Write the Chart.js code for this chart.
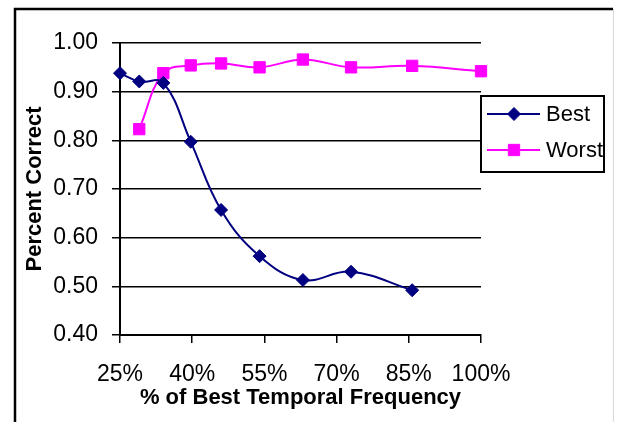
<!DOCTYPE html>
<html>
<head>
<meta charset="utf-8">
<script src="https://cdn.jsdelivr.net/npm/chart.js@4/dist/chart.umd.min.js"></script>
<style>
  html, body { margin: 0; padding: 0; background: #fff; }
  #wrap { position: relative; width: 618px; height: 422px; }
</style>
</head>
<body>
<div id="wrap"><canvas id="chartCanvas" width="618" height="422"></canvas></div>
<script>
// frequencies (% of best temporal frequency)
const frequencies = [25, 29, 34, 39.7, 46, 54, 63, 73, 85.7, 100];
const bestValues  = [0.938, 0.921, 0.918, 0.797, 0.657, 0.562, 0.513, 0.530, 0.492, null];
const worstValues = [null, 0.823, 0.938, 0.954, 0.958, 0.950, 0.966, 0.950, 0.953, 0.942];
const xTicks = [25, 40, 55, 70, 85, 100];
const yTicks = [0.40, 0.50, 0.60, 0.70, 0.80, 0.90, 1.00];

const FONT = "'Liberation Sans', Arial, sans-serif";

function toPoints(values) {
    return frequencies.map((f, i) => ({ x: f, y: values[i] }));
}

// marco exterior del gráfico
const framePlugin = {
    id: 'frame',
    beforeDraw(chart) {
        const ctx = chart.ctx;
        ctx.save();
        ctx.fillStyle = '#fff';
        ctx.fillRect(0, 0, chart.width, chart.height);
        ctx.strokeStyle = '#000';
        ctx.lineWidth = 2.5;
        ctx.beginPath();
        ctx.moveTo(15, 430);
        ctx.lineTo(15, 9);
        ctx.lineTo(613, 9);
        ctx.stroke();
        ctx.strokeStyle = '#d8d8d8';
        ctx.lineWidth = 1;
        ctx.beginPath();
        ctx.moveTo(613.5, 9);
        ctx.lineTo(613.5, 430);
        ctx.stroke();
        ctx.restore();
    }
};

// leyenda con recuadro a la derecha
const boxLegendPlugin = {
    id: 'boxLegend',
    afterDraw(chart) {
        const ctx = chart.ctx;
        const left = 481, top = 96, right = 604, bottom = 172;
        ctx.save();
        ctx.fillStyle = '#fff';
        ctx.fillRect(left, top, right - left, bottom - top);
        ctx.strokeStyle = '#000';
        ctx.lineWidth = 2;
        ctx.strokeRect(left, top, right - left, bottom - top);
        const rows = [114, 150];
        chart.data.datasets.forEach((ds, i) => {
            const y = rows[i];
            ctx.strokeStyle = ds.borderColor;
            ctx.lineWidth = 2;
            ctx.beginPath();
            ctx.moveTo(487, y);
            ctx.lineTo(540, y);
            ctx.stroke();
            ctx.fillStyle = ds.pointBackgroundColor;
            ctx.strokeStyle = ds.pointBorderColor;
            ctx.lineWidth = 1;
            Chart.helpers.drawPoint(ctx, {
                pointStyle: ds.pointStyle,
                radius: ds.pointRadius,
                borderWidth: 1
            }, 514, y);
            ctx.fillStyle = '#000';
            ctx.font = '22px ' + FONT;
            ctx.textBaseline = 'middle';
            ctx.textAlign = 'left';
            ctx.fillText(ds.label, 546, y + 1);
        });
        ctx.restore();
    }
};

const ctx = document.getElementById('chartCanvas').getContext('2d');

const myChart = new Chart(ctx, {
    type: 'line',
    data: {
        datasets: [
            {
                label: 'Best',
                data: toPoints(bestValues),
                borderColor: '#000080',
                backgroundColor: '#000080',
                pointBackgroundColor: '#000080',
                pointBorderColor: '#000080',
                pointStyle: 'rectRot',
                pointRadius: 6.5,
                pointBorderWidth: 1,
                borderWidth: 2,
                tension: 0.4,
                fill: false,
                clip: false
            },
            {
                label: 'Worst',
                data: toPoints(worstValues),
                borderColor: '#ff00ff',
                backgroundColor: '#ff00ff',
                pointBackgroundColor: '#ff00ff',
                pointBorderColor: '#ff00ff',
                pointStyle: 'rect',
                pointRadius: 8,
                pointBorderWidth: 1,
                borderWidth: 2,
                tension: 0.4,
                fill: false,
                clip: false
            }
        ]
    },
    options: {
        responsive: false,
        animation: false,
        devicePixelRatio: 1,
        layout: {
            padding: { left: 0, top: 43, right: 137, bottom: 0 }
        },
        plugins: {
            legend: { display: false },
            tooltip: { enabled: false }
        },
        scales: {
            x: {
                type: 'linear',
                min: 25,
                max: 100,
                afterBuildTicks(scale) {
                    scale.ticks = xTicks.map(v => ({ value: v }));
                },
                afterFit(scale) { scale.height = 87; },
                ticks: {
                    color: '#000',
                    font: { family: FONT, size: 23 },
                    padding: 18,
                    maxRotation: 0,
                    autoSkip: false,
                    callback: v => v + '%'
                },
                grid: {
                    drawOnChartArea: false,
                    drawTicks: true,
                    tickLength: 8,
                    color: '#000',
                    lineWidth: 1.5
                },
                border: { display: true, color: '#000', width: 2 },
                title: {
                    display: true,
                    text: '% of Best Temporal Frequency',
                    color: '#000',
                    font: { family: FONT, size: 22, weight: 'bold' },
                    padding: { top: 0, bottom: 11 }
                }
            },
            y: {
                min: 0.4,
                max: 1.0,
                afterBuildTicks(scale) {
                    scale.ticks = yTicks.map(v => ({ value: v }));
                },
                afterFit(scale) { scale.width = 120; },
                ticks: {
                    color: '#000',
                    font: { family: FONT, size: 23 },
                    padding: 14,
                    callback: v => v.toFixed(2)
                },
                grid: {
                    drawTicks: true,
                    tickLength: 8,
                    color: '#000',
                    lineWidth: 1.5
                },
                border: { display: true, color: '#000', width: 2 },
                title: {
                    display: true,
                    text: 'Percent Correct',
                    color: '#000',
                    font: { family: FONT, size: 22, weight: 'bold' },
                    padding: { top: 22, bottom: 0 }
                }
            }
        }
    },
    plugins: [framePlugin, boxLegendPlugin]
});
</script>
</body>
</html>
